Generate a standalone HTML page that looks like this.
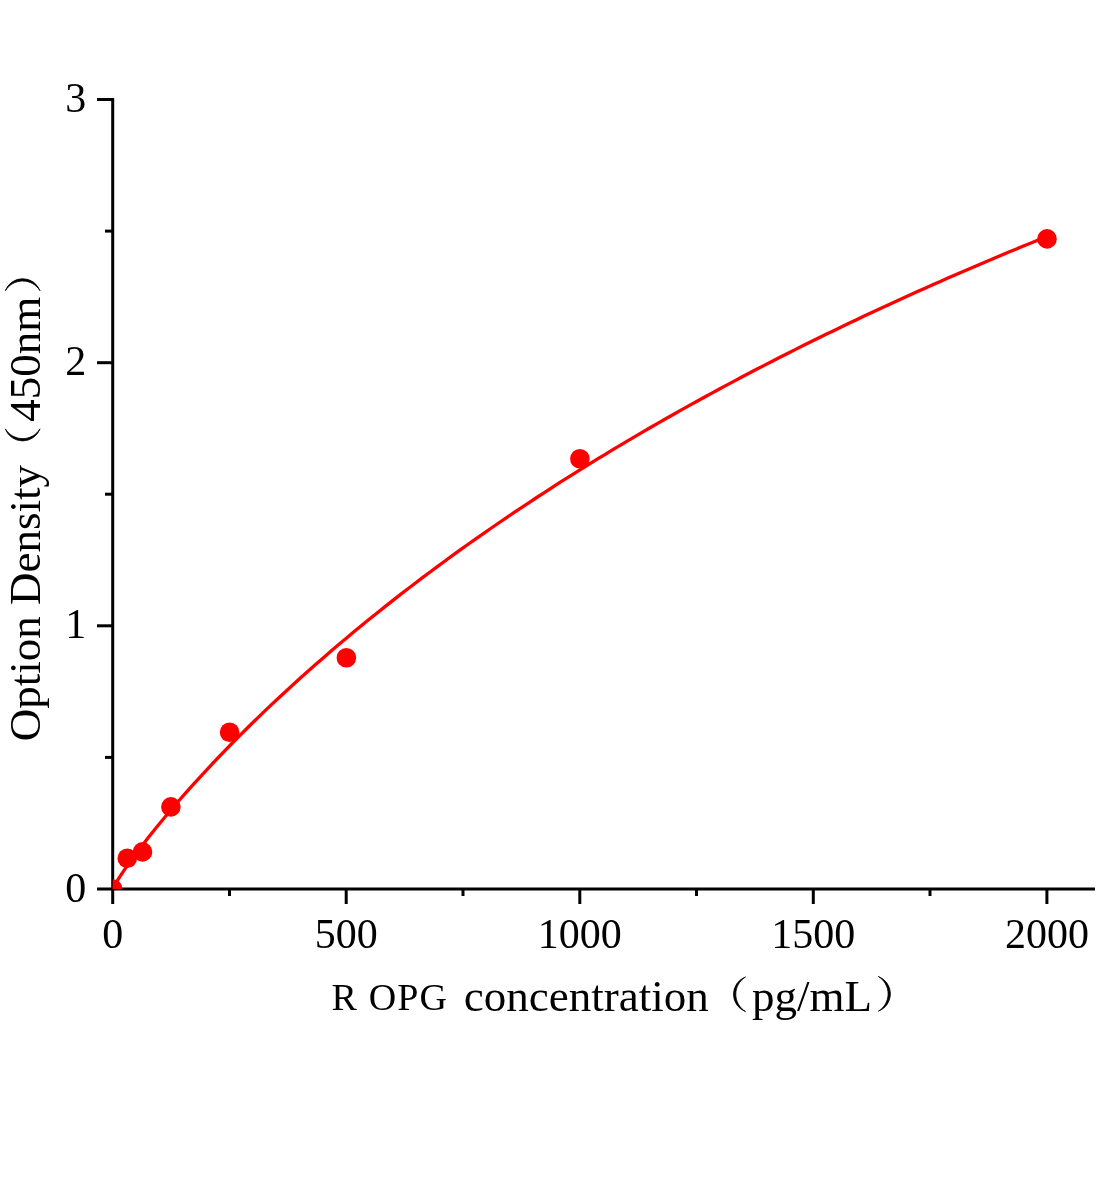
<!DOCTYPE html>
<html><head><meta charset="utf-8">
<style>
html,body{margin:0;padding:0;background:#fff;}
body{width:1104px;height:1200px;overflow:hidden;position:relative;}
svg{position:absolute;left:0;top:0;will-change:transform;}
text{font-family:"Liberation Serif",serif;fill:#000;}
</style></head><body>
<svg width="1104" height="1200" viewBox="0 0 1104 1200">
<defs><clipPath id="clip"><rect x="112.7" y="0" width="1000" height="889"/></clipPath>
<path id="lp" d="M12.40,0 A18.54,18.54 0 0 0 12.40,34.70 A20.37,20.37 0 0 1 12.40,0Z" fill="#000" stroke="#000" stroke-width="0.8" stroke-linejoin="round"/></defs>
<g stroke="#000" stroke-width="3" fill="none">
<line x1="112.7" y1="98" x2="112.7" y2="904"/>
<line x1="97" y1="889" x2="1095" y2="889"/>
<line x1="97" y1="99.5" x2="112.7" y2="99.5"/>
<line x1="97" y1="362.7" x2="112.7" y2="362.7"/>
<line x1="97" y1="625.8" x2="112.7" y2="625.8"/>
<line x1="105" y1="231.1" x2="112.7" y2="231.1"/>
<line x1="105" y1="494.2" x2="112.7" y2="494.2"/>
<line x1="105" y1="757.4" x2="112.7" y2="757.4"/>
<line x1="346.2" y1="889" x2="346.2" y2="904"/>
<line x1="579.8" y1="889" x2="579.8" y2="904"/>
<line x1="813.3" y1="889" x2="813.3" y2="904"/>
<line x1="1046.9" y1="889" x2="1046.9" y2="904"/>
<line x1="229.5" y1="889" x2="229.5" y2="896"/>
<line x1="463" y1="889" x2="463" y2="896"/>
<line x1="696.5" y1="889" x2="696.5" y2="896"/>
<line x1="930" y1="889" x2="930" y2="896"/>
</g>
<g clip-path="url(#clip)">
<polyline points="112.70,888.93 115.04,884.48 117.37,880.60 119.71,876.92 122.04,873.37 124.38,869.91 126.71,866.53 129.05,863.22 131.38,859.96 133.72,856.75 136.06,853.58 140.73,847.37 148.34,837.53 155.96,827.99 163.57,818.70 171.19,809.65 178.80,800.79 186.42,792.12 194.03,783.61 201.65,775.27 209.26,767.07 216.88,759.00 224.49,751.07 232.10,743.27 239.72,735.58 247.33,728.01 254.95,720.54 262.56,713.18 270.18,705.92 277.79,698.76 285.41,691.69 293.02,684.71 300.64,677.81 308.25,671.01 315.87,664.28 323.48,657.64 331.10,651.07 338.71,644.58 346.33,638.16 353.94,631.82 361.56,625.54 369.17,619.34 376.79,613.20 384.40,607.12 392.02,601.11 399.63,595.17 407.25,589.28 414.86,583.46 422.48,577.69 430.09,571.98 437.71,566.32 445.32,560.73 452.94,555.18 460.55,549.69 468.17,544.25 475.78,538.87 483.40,533.53 491.01,528.24 498.63,523.00 506.24,517.81 513.86,512.66 521.47,507.56 529.09,502.51 536.70,497.50 544.32,492.54 551.93,487.61 559.55,482.73 567.16,477.89 574.78,473.10 582.39,468.34 590.01,463.62 597.62,458.94 605.24,454.31 612.85,449.70 620.47,445.14 628.08,440.61 635.69,436.12 643.31,431.67 650.92,427.25 658.54,422.86 666.15,418.51 673.77,414.20 681.38,409.92 689.00,405.67 696.61,401.45 704.23,397.26 711.84,393.11 719.46,388.99 727.07,384.90 734.69,380.84 742.30,376.80 749.92,372.80 757.53,368.83 765.15,364.89 772.76,360.97 780.38,357.09 787.99,353.23 795.61,349.40 803.22,345.59 810.84,341.82 818.45,338.07 826.07,334.34 833.68,330.65 841.30,326.97 848.91,323.33 856.53,319.70 864.14,316.11 871.76,312.53 879.37,308.98 886.99,305.46 894.60,301.96 902.22,298.48 909.83,295.02 917.45,291.59 925.06,288.18 932.68,284.79 940.29,281.43 947.91,278.09 955.52,274.76 963.14,271.46 970.75,268.18 978.37,264.93 985.98,261.69 993.60,258.47 1001.21,255.27 1008.83,252.10 1016.44,248.94 1024.06,245.80 1031.67,242.68 1039.29,239.58 1046.90,236.51" fill="none" stroke="#ff0000" stroke-width="3.3" stroke-linejoin="round"/>
<g fill="#ff0000">
<circle cx="112.7" cy="889" r="9.8"/>
<circle cx="127.3" cy="858.3" r="9.8"/>
<circle cx="142.5" cy="851.9" r="9.8"/>
<circle cx="170.9" cy="806.9" r="9.8"/>
<circle cx="229.6" cy="732.2" r="9.8"/>
<circle cx="346.4" cy="657.7" r="9.8"/>
<circle cx="579.9" cy="458.8" r="9.8"/>
<circle cx="1047" cy="238.9" r="9.8"/>
</g>
</g>
<g font-size="42" text-anchor="end">
<text x="86.3" y="112.4">3</text>
<text x="86.3" y="375.3">2</text>
<text x="86.3" y="638.4">1</text>
<text x="86.3" y="901.5">0</text>
</g>
<g font-size="42" text-anchor="middle">
<text x="112.7" y="948">0</text>
<text x="346.2" y="948">500</text>
<text x="579.8" y="948">1000</text>
<text x="813.3" y="948">1500</text>
<text x="1046.9" y="948">2000</text>
</g>
<text x="331.5" y="1010" font-size="38">R<tspan dx="2.5"> O</tspan><tspan dx="0.9">P</tspan><tspan dx="1.1">G</tspan></text>
<text x="463.8" y="1010.7" font-size="45">concentration</text>
<text x="752" y="1010.7" font-size="45">pg/mL</text>
<use href="#lp" transform="translate(733.1,976.9)"/>
<use href="#lp" transform="translate(890.8,976.5) scale(-1,1)"/>
<g transform="translate(40,739.7) rotate(-90)" font-size="45">
<text x="-1.5" y="0">Option Density</text>
<use href="#lp" transform="translate(298.4,-34.7)"/>
<text x="318" y="0">450nm</text>
<use href="#lp" transform="translate(461.4,-34.7) scale(-1,1)"/>
</g>
</svg>
</body></html>
